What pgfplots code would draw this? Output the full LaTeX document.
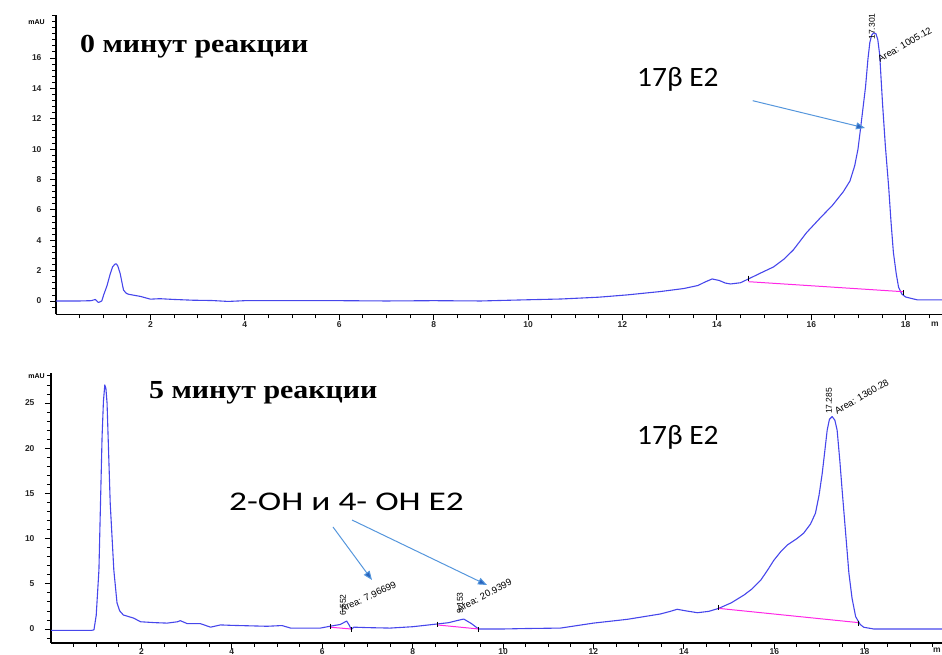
\documentclass[border=0pt]{standalone}
\usepackage{fontspec}
\setmainfont{Liberation Sans}
\newfontfamily\serifb{Liberation Serif}
\newfontfamily\calib{Carlito}
\usepackage{pgfplots}
\pgfplotsset{compat=1.18}
\usetikzlibrary{arrows.meta}
\definecolor{trace}{RGB}{70,70,235}
\definecolor{basec}{RGB}{255,40,230}
\definecolor{arr}{RGB}{85,150,220}
\definecolor{arrh}{RGB}{40,100,190}
\pgfplotsset{chrom/.style={
  scale only axis, axis x line=bottom, axis y line=left,
  axis line style={-, line width=1.1pt},
  tick align=outside, major tick length=6pt, minor tick length=4pt,
  every tick/.style={black, line width=0.8pt},
  xtick={2,4,...,18}, minor xtick={0.5,1,...,19.5},
  ticklabel style={font=\bfseries\fontsize{8.5}{8.5}\selectfont, text=black!85},
  /pgf/number format/assume math mode=true,
}}
\begin{document}
\begin{tikzpicture}[x=1pt,y=1pt]
\path[use as bounding box] (0,0) rectangle (942,655);
% ---------- top: 0 min ----------
\begin{axis}[chrom, at={(56pt,340.5pt)}, anchor=south west,
  width=886pt, height=299.5pt,
  xmin=0, xmax=18.77, ymin=-0.89, ymax=18.83,
  ytick={0,2,...,16}, minor ytick={-0.4,0.4,0.8,1.2,1.6,2.4,2.8,3.2,3.6,4.4,4.8,5.2,5.6,6.4,6.8,7.2,7.6,8.4,8.8,9.2,9.6,10.4,10.8,11.2,11.6,12.4,12.8,13.2,13.6,14.4,14.8,15.2,15.6,16.4,16.8,17.2,17.6,18,18.4,18.8},
  xticklabel style={yshift=2pt},
  yticklabel style={xshift=-5pt}]
\addplot[trace, line width=1.1pt, line join=round] coordinates {
(0,0) (0.5,0.0) (0.75,0.02) (0.83,0.1) (0.9,-0.1) (0.97,0.0) (1.01,0.4) (1.08,1.0) (1.15,1.8) (1.2,2.25) (1.25,2.43) (1.28,2.44) (1.31,2.3) (1.36,1.8) (1.43,0.72) (1.49,0.5) (1.54,0.44) (1.79,0.3) (2.0,0.12) (2.2,0.15) (2.5,0.1) (2.9,0.05) (3.3,0.03) (3.65,-0.03) (4.0,0.02) (5,0.02) (6,0.02) (7,0.0) (8,0.02) (9,0.0) (10,0.08) (10.7,0.13) (11.5,0.25) (12.1,0.4) (12.8,0.62) (13.3,0.82) (13.6,1.02) (13.75,1.25) (13.9,1.45) (14.05,1.35) (14.18,1.18) (14.29,1.12) (14.5,1.2) (14.67,1.45) (14.9,1.8) (15.2,2.24) (15.42,2.75) (15.62,3.36) (15.9,4.5) (16.2,5.5) (16.45,6.3) (16.68,7.2) (16.82,7.9) (16.92,8.9) (16.99,10.0) (17.04,11.25) (17.1,12.8) (17.15,14.1) (17.2,15.9) (17.24,17.0) (17.28,17.5) (17.32,17.65) (17.37,17.6) (17.41,17.2) (17.45,16.2) (17.51,13.0) (17.57,10.2) (17.64,7.5) (17.69,5.2) (17.74,3.2) (17.8,1.8) (17.85,0.9) (17.92,0.45) (18.0,0.26) (18.25,0.07) (18.77,0.07)};
\addplot[basec, line width=1pt] coordinates {(14.67,1.27) (17.95,0.61)};
\addplot[only marks, mark=|, mark size=2.5pt, mark options={black, line width=0.8pt}] coordinates {(14.67,1.5) (17.95,0.55)};
\end{axis}
% ---------- bottom: 5 min ----------
\begin{axis}[chrom, at={(51pt,12pt)}, anchor=south west,
  width=891pt, height=270pt,
  xmin=0, xmax=19.71, ymin=-1.55, ymax=28.32,
  ytick={0,5,...,25}, minor ytick={-1,0,...,28},
  xticklabel style={yshift=4pt},
  yticklabel style={xshift=-7pt}]
\addplot[trace, line width=1.1pt, line join=round] coordinates {
(0,-0.15) (0.9,-0.15) (0.95,-0.1) (1.0,1.5) (1.06,6.5) (1.13,21.3) (1.16,25.2) (1.19,27.0) (1.215,26.6) (1.24,25.0) (1.31,13.9) (1.39,6.5) (1.46,2.9) (1.52,2.0) (1.6,1.55) (1.83,1.2) (1.98,0.8) (2.3,0.7) (2.57,0.65) (2.8,0.8) (2.86,0.92) (3.01,0.6) (3.3,0.6) (3.53,0.2) (3.75,0.45) (4.0,0.4) (4.78,0.3) (5.11,0.38) (5.3,0.1) (5.96,0.1) (6.17,0.3) (6.4,0.5) (6.54,0.88) (6.6,0.4) (6.64,-0.05) (6.7,0.2) (7.0,0.15) (7.5,0.1) (8.0,0.25) (8.54,0.55) (8.8,0.7) (9.0,0.95) (9.13,1.1) (9.3,0.6) (9.46,0.0) (10.0,0.0) (10.5,0.05) (11.27,0.1) (12.0,0.65) (12.75,1.07) (13.48,1.66) (13.7,1.95) (13.85,2.18) (14.05,2.0) (14.3,1.8) (14.55,1.95) (14.77,2.28) (15.05,2.9) (15.33,3.76) (15.5,4.4) (15.7,5.4) (15.85,6.5) (15.99,7.6) (16.15,8.6) (16.29,9.3) (16.5,10.0) (16.65,10.6) (16.8,11.6) (16.91,12.8) (16.99,14.8) (17.06,17.2) (17.12,19.8) (17.17,22.0) (17.22,23.2) (17.28,23.5) (17.34,23.1) (17.39,22.0) (17.45,18.6) (17.5,15.4) (17.58,10.5) (17.65,6.2) (17.72,3.4) (17.8,1.36) (17.9,0.5) (17.98,0.19) (18.2,0.0) (19.71,0.0)};
\addplot[basec, line width=1pt] coordinates {(6.17,0.2) (6.64,0.0)};
\addplot[basec, line width=1pt] coordinates {(8.54,0.45) (9.46,0.0)};
\addplot[basec, line width=1pt] coordinates {(14.77,2.28) (17.87,0.7)};
\addplot[only marks, mark=|, mark size=2.5pt, mark options={black, line width=0.8pt}] coordinates {(6.17,0.33) (6.64,-0.1) (8.54,0.55) (9.46,-0.1) (14.77,2.4) (17.87,0.6)};
\end{axis}
% ---------- axis unit labels ----------
\node[font=\bfseries\fontsize{7}{7}\selectfont, anchor=east, inner sep=0] at (45,633) {mAU};
\node[font=\bfseries\fontsize{7}{7}\selectfont, anchor=east, inner sep=0] at (45,279) {mAU};
\node[font=\bfseries\fontsize{8.5}{8.5}\selectfont, text=black!85] at (935,331) {m};
\node[font=\bfseries\fontsize{8.5}{8.5}\selectfont, text=black!85] at (937,5) {m};
% ---------- titles ----------
\node[anchor=west, inner sep=0, font=\serifb\bfseries\fontsize{26}{26}\selectfont] at (80,608) {\scalebox{1.15}[1]{0 минут реакции}};
\node[anchor=west, inner sep=0, font=\serifb\bfseries\fontsize{26}{26}\selectfont] at (149,262) {\scalebox{1.15}[1]{5 минут реакции}};
\node[anchor=west, inner sep=0, font=\calib\fontsize{28}{28}\selectfont] at (637,575.5) {\scalebox{1.05}[1]{17β E2}};
\node[anchor=west, inner sep=0, font=\calib\fontsize{28}{28}\selectfont] at (637,218) {\scalebox{1.05}[1]{17β E2}};
\node[anchor=west, inner sep=0, font=\calib\fontsize{27}{27}\selectfont] at (229,153) {\scalebox{1.31}[1]{2-OH и 4- OH E2}};
% ---------- arrows ----------
\draw[arr, line width=1pt, -{Triangle[length=9pt,width=7pt,fill=arrh]}] (752.7,554.3) -- (865,527);
\draw[arr, line width=1pt, -{Triangle[length=9pt,width=7pt,fill=arrh]}] (333,128) -- (372,75);
\draw[arr, line width=1pt, -{Triangle[length=9pt,width=7pt,fill=arrh]}] (352,135) -- (487,70);
% ---------- peak annotations ----------
\node[rotate=90, inner sep=0, font=\fontsize{8.5}{8.5}\selectfont] at (872,628.5) {17.301};
\node[rotate=30, anchor=south west, inner sep=0, font=\fontsize{9.5}{9.5}\selectfont] at (880,592) {Area: 1005.12};
\node[rotate=90, inner sep=0, font=\fontsize{8.5}{8.5}\selectfont] at (829,254) {17.285};
\node[rotate=30, anchor=south west, inner sep=0, font=\fontsize{9.5}{9.5}\selectfont] at (837,240) {Area: 1360.28};
\node[rotate=90, inner sep=0, font=\fontsize{8.5}{8.5}\selectfont] at (343,50) {6.552};
\node[rotate=25, anchor=south west, inner sep=0, font=\fontsize{9.5}{9.5}\selectfont] at (342,42) {Area: 7.96699};
\node[rotate=90, inner sep=0, font=\fontsize{8.5}{8.5}\selectfont] at (460,52) {9.153};
\node[rotate=28, anchor=south west, inner sep=0, font=\fontsize{9.5}{9.5}\selectfont] at (459,42) {Area: 20.9399};
\end{tikzpicture}
\end{document}
